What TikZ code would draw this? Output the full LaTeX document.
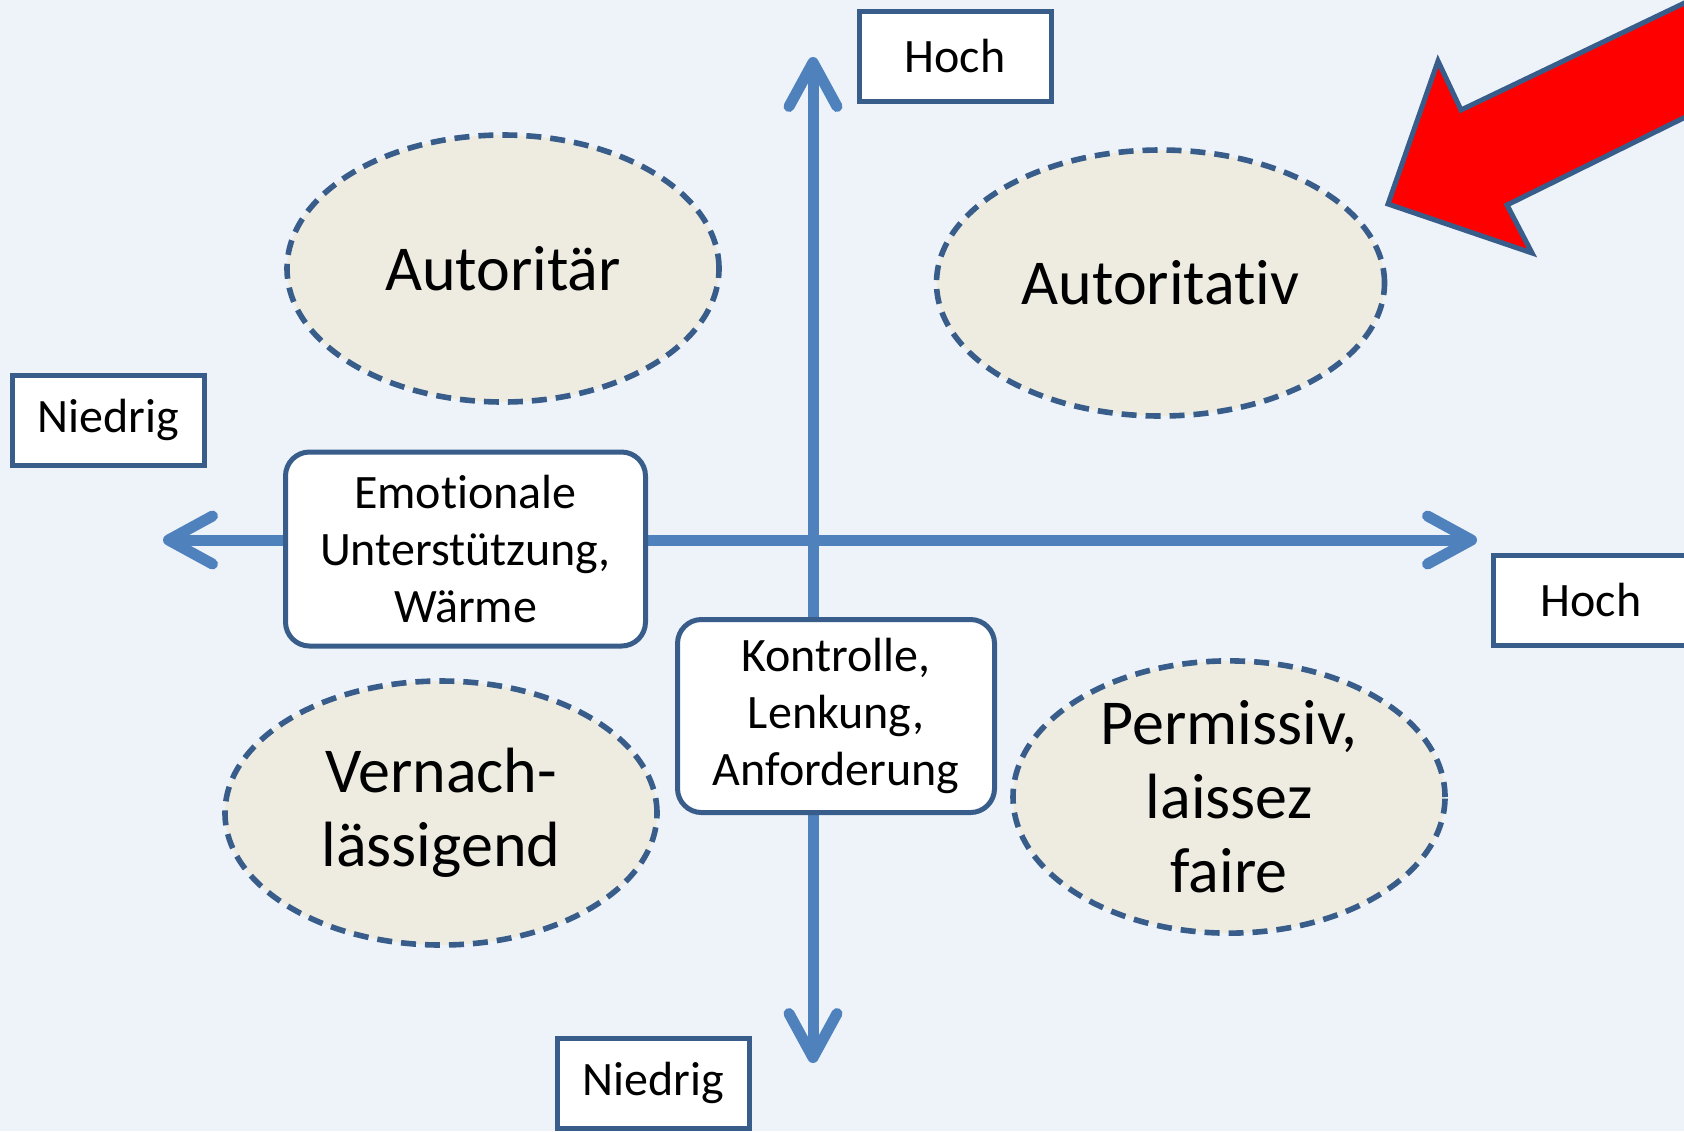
\documentclass[tikz,border=0pt]{standalone}
\usepackage{fontspec}
\setmainfont[Ligatures={NoCommon,NoRare,NoContextual}]{Carlito}
\usetikzlibrary{shapes.geometric,arrows.meta}

\definecolor{bgblue}{RGB}{238,243,250}
\definecolor{axisblue}{RGB}{79,129,189}
\definecolor{darkblue}{RGB}{56,93,138}
\definecolor{bubblefill}{RGB}{238,236,225}

\begin{document}
\begin{tikzpicture}[x=0.5pt,y=-0.5pt,
		axisline/.style={line width=5.5pt, draw=axisblue, line cap=round,
			{Straight Barb[length=22pt,width=24pt,round]}-{Straight Barb[length=22pt,width=24pt,round]}},
		levelbox/.style={draw=darkblue, line width=2.5pt, fill=white, minimum width=96pt, minimum height=45pt,
			inner sep=0pt, font=\fontsize{24}{28.7}\selectfont},
		dimbox/.style={draw=darkblue, line width=2.5pt, fill=white, rounded corners=12pt, inner sep=0pt,
			align=center, font=\fontsize{24}{28.7}\selectfont},
		stylebubble/.style={ellipse, draw=darkblue, line width=2.8pt, dash pattern=on 7.5pt off 4.5pt, fill=bubblefill,
			inner sep=0pt, align=center, font=\fontsize{32}{37}\selectfont}]
		
		%background
		\useasboundingbox (0,0) rectangle (1684,1131);
		\fill[bgblue] (0,0) rectangle (1684,1131);
		
		%axes
		\coordinate (left) at (163,540);
		\coordinate (right) at (1477,540);
		\coordinate (top) at (813,57);
		\coordinate (bottom) at (813,1063);
		\draw[axisline] (left) -- (right);
		\draw[axisline] (bottom) -- (top);
		
		%axis names
		\node[dimbox, minimum width=180pt, minimum height=97pt] (waerme) at (465.5,549) {Emotionale\\Unterstützung,\\Wärme};
		\node[dimbox, minimum width=158.5pt, minimum height=96.5pt] (kontrolle) at (836,716) {Kontrolle,\\Lenkung,\\Anforderung};
		
		%levels
		\node[levelbox] (hochY) at (955,56) {Hoch};
		\node[levelbox] (niedrigY) at (653,1083) {Niedrig};
		\node[levelbox] (niedrigX) at (108,420) {Niedrig};
		\node[levelbox, minimum width=97.5pt] (hochX) at (1591,600) {Hoch};
		
		%styles
		\node[stylebubble, minimum width=216pt, minimum height=133.5pt] (autoritaer) at (503,268.5) {Autoritär};
		\node[stylebubble, minimum width=224pt, minimum height=133pt] (autoritativ) at (1160.5,283) {Autoritativ};
		\node[stylebubble, minimum width=216pt, minimum height=132pt] (vernach) at (441,813) {Vernach-\\lässigend};
		\node[stylebubble, minimum width=216pt, minimum height=133pt] (permissiv) at (1229,797) {Permissiv,\\laissez\\faire};
		
		%pointer
		\filldraw[fill=red, draw=darkblue, line width=2.5pt] (1388,204) -- (1438,61) -- (1461,110) -- (1720,-14)
			-- (1720,100) -- (1507,205) -- (1532,253) -- cycle;
		
\end{tikzpicture}
\end{document}
